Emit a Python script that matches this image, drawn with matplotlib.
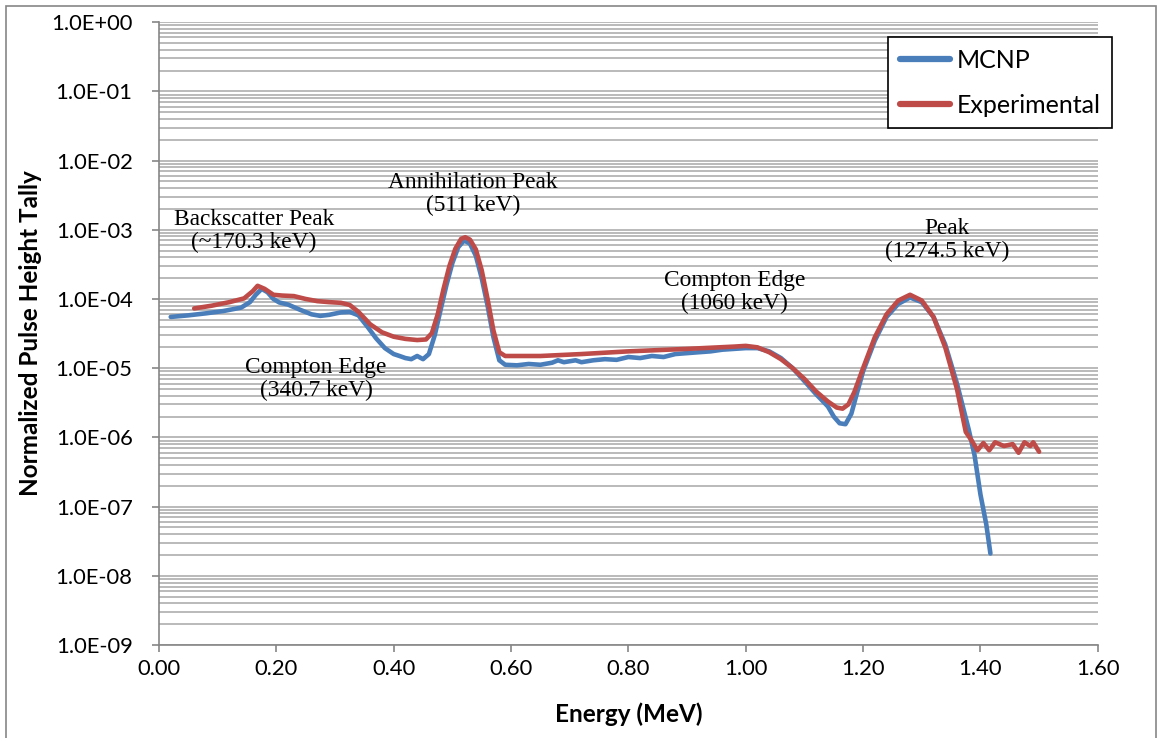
# Pulse height tally, MCNP x experimental
import matplotlib
matplotlib.use('Agg')
import matplotlib.pyplot as plt
import matplotlib.ticker as mticker
from matplotlib.patches import Rectangle

# dados
E_mcnp = [0.02, 0.05, 0.08, 0.11, 0.14, 0.155, 0.165, 0.175, 0.185, 0.195, 0.205, 0.22, 0.24, 0.26,
          0.275, 0.29, 0.31, 0.325, 0.34, 0.355, 0.37, 0.385, 0.40, 0.41, 0.42, 0.43, 0.44, 0.45,
          0.46, 0.47, 0.48, 0.49, 0.50, 0.51, 0.52, 0.53, 0.54, 0.55, 0.56, 0.57, 0.58, 0.59,
          0.61, 0.63, 0.65, 0.67, 0.68, 0.69, 0.71, 0.72, 0.74, 0.76, 0.78, 0.80, 0.82, 0.84,
          0.86, 0.88, 0.90, 0.92, 0.94, 0.96, 0.98, 1.00, 1.02, 1.04, 1.06, 1.08, 1.10, 1.12,
          1.14, 1.15, 1.16, 1.17, 1.18, 1.19, 1.20, 1.22, 1.24, 1.26, 1.28, 1.30, 1.32, 1.34,
          1.36, 1.38, 1.39, 1.40, 1.41, 1.417]
T_mcnp = [5.5e-5, 5.8e-5, 6.2e-5, 6.7e-5, 7.5e-5, 9.0e-5, 1.15e-4, 1.40e-4, 1.25e-4, 1.0e-4, 8.9e-5,
          8.3e-5, 7.0e-5, 6.0e-5, 5.7e-5, 5.9e-5, 6.4e-5, 6.5e-5, 5.8e-5, 4.0e-5, 2.7e-5, 1.95e-5,
          1.6e-5, 1.5e-5, 1.4e-5, 1.35e-5, 1.5e-5, 1.35e-5, 1.6e-5, 3.0e-5, 7.0e-5, 1.6e-4,
          3.3e-4, 5.6e-4, 7.0e-4, 6.3e-4, 4.2e-4, 2.0e-4, 8.0e-5, 2.8e-5, 1.3e-5, 1.12e-5,
          1.1e-5, 1.15e-5, 1.12e-5, 1.2e-5, 1.3e-5, 1.22e-5, 1.3e-5, 1.22e-5, 1.3e-5, 1.35e-5,
          1.32e-5, 1.45e-5, 1.4e-5, 1.5e-5, 1.45e-5, 1.6e-5, 1.65e-5, 1.7e-5, 1.75e-5, 1.85e-5,
          1.9e-5, 1.95e-5, 1.95e-5, 1.75e-5, 1.4e-5, 1.0e-5, 6.5e-6, 4.2e-6, 2.8e-6, 2.0e-6,
          1.6e-6, 1.55e-6, 2.2e-6, 4.5e-6, 9.0e-6, 2.5e-5, 5.5e-5, 8.5e-5, 1.05e-4, 9.0e-5,
          5.5e-5, 2.2e-5, 6.0e-6, 1.3e-6, 5.5e-7, 1.5e-7, 5.5e-8, 2.1e-8]

E_exp = [0.06, 0.09, 0.12, 0.145, 0.16, 0.168, 0.18, 0.195, 0.21, 0.23, 0.25, 0.27, 0.29, 0.31,
         0.325, 0.34, 0.36, 0.38, 0.40, 0.42, 0.44, 0.455, 0.465, 0.475, 0.485, 0.495, 0.505,
         0.515, 0.522, 0.53, 0.54, 0.55, 0.56, 0.57, 0.58, 0.59, 0.65, 0.72, 0.80, 0.90, 0.98,
         1.00, 1.02, 1.04, 1.06, 1.08, 1.10, 1.12, 1.14, 1.155, 1.165, 1.175, 1.185, 1.20,
         1.22, 1.24, 1.26, 1.28, 1.30, 1.32, 1.34, 1.36, 1.375, 1.385, 1.395, 1.405, 1.415,
         1.425, 1.44, 1.455, 1.465, 1.475, 1.485, 1.49, 1.50]
T_exp = [7.3e-5, 8.0e-5, 9.0e-5, 1.02e-4, 1.3e-4, 1.55e-4, 1.4e-4, 1.15e-4, 1.12e-4, 1.1e-4,
         1.0e-4, 9.3e-5, 9.0e-5, 8.8e-5, 8.2e-5, 6.5e-5, 4.3e-5, 3.3e-5, 2.85e-5, 2.65e-5,
         2.55e-5, 2.6e-5, 3.2e-5, 6.0e-5, 1.4e-4, 3.0e-4, 5.3e-4, 7.4e-4, 7.8e-4, 7.2e-4,
         5.2e-4, 2.6e-4, 1.0e-4, 3.5e-5, 1.7e-5, 1.5e-5, 1.5e-5, 1.6e-5, 1.75e-5, 1.9e-5,
         2.05e-5, 2.1e-5, 2.0e-5, 1.7e-5, 1.35e-5, 1.0e-5, 7.0e-6, 4.6e-6, 3.3e-6, 2.7e-6,
         2.6e-6, 3.0e-6, 4.5e-6, 1.0e-5, 2.8e-5, 6.0e-5, 9.5e-5, 1.15e-4, 9.5e-5, 5.5e-5,
         2.0e-5, 5.0e-6, 1.2e-6, 9.0e-7, 6.5e-7, 8.3e-7, 6.5e-7, 8.5e-7, 7.5e-7, 8.0e-7,
         6.0e-7, 8.5e-7, 7.5e-7, 8.5e-7, 6.2e-7]

cor_mcnp = '#4a7ebb'
cor_exp = '#be4b48'
cinza = '#868686'

fig = plt.figure(figsize=(11.58, 7.38), dpi=100)
fig.subplots_adjust(left=0.1373, right=0.948, top=0.970, bottom=0.126)
ax = fig.add_subplot(111)

# moldura externa
fig.patches.append(Rectangle((6/1158, -0.01), 1150/1158, 1 - 6/738 + 0.01, transform=fig.transFigure,
                             fill=False, edgecolor=cinza, linewidth=1.2))

ax.plot(E_mcnp, T_mcnp, color=cor_mcnp, lw=3.3, label='MCNP', solid_capstyle='round', zorder=3)
ax.plot(E_exp, T_exp, color=cor_exp, lw=3.3, label='Experimental', solid_capstyle='round', zorder=4)

ax.set_yscale('log')
ax.set_ylim(1e-9, 1e0)
ax.set_xlim(0, 1.6)
ax.set_xticks([0.0, 0.2, 0.4, 0.6, 0.8, 1.0, 1.2, 1.4, 1.6])
ax.xaxis.set_major_formatter(mticker.FormatStrFormatter('%.2f'))
ax.yaxis.set_major_locator(mticker.LogLocator(base=10, numticks=20))
ax.yaxis.set_minor_locator(mticker.LogLocator(base=10, subs=range(2, 10), numticks=20))
ax.yaxis.set_major_formatter(mticker.FuncFormatter(lambda v, p: '%.1E' % v))
ax.yaxis.set_minor_formatter(mticker.NullFormatter())

ax.grid(True, which='both', axis='y', color='#b4b4b4', linewidth=1.3)
ax.set_axisbelow(True)
for s in ['top', 'right']:
    ax.spines[s].set_visible(False)
for s in ['left', 'bottom']:
    ax.spines[s].set_color(cinza)
    ax.spines[s].set_linewidth(1.2)

fonte = 'Lato'
ax.tick_params(axis='both', which='major', direction='out', length=5, width=1.2, color=cinza,
               labelsize=15.8)
ax.tick_params(axis='y', which='major', pad=14)
ax.tick_params(axis='x', which='major', pad=5)
ax.tick_params(axis='y', which='minor', length=0)
for lab in ax.get_xticklabels() + ax.get_yticklabels():
    lab.set_fontfamily(fonte)

ax.set_xlabel('Energy (MeV)', fontsize=17.5, fontweight='bold', family=fonte, labelpad=17)
ax.set_ylabel('Normalized Pulse Height Tally', fontsize=17.5, fontweight='bold', family=fonte, labelpad=7)

# anotacoes
serif = 'Liberation Serif'
tam = 16.8
ax.text(0.162, 9.5e-4, 'Backscatter Peak\n(~170.3 keV)', ha='center', va='center', fontsize=tam,
        family=serif, linespacing=1.1)
ax.text(0.535, 3.27e-3, 'Annihilation Peak\n(511 keV)', ha='center', va='center', fontsize=tam,
        family=serif, linespacing=1.1)
ax.text(0.2675, 6.9e-6, 'Compton Edge\n(340.7 keV)', ha='center', va='center', fontsize=tam,
        family=serif, linespacing=1.1)
ax.text(0.981, 1.26e-4, 'Compton Edge\n(1060 keV)', ha='center', va='center', fontsize=tam,
        family=serif, linespacing=1.1)
ax.text(1.343, 7.1e-4, 'Peak\n(1274.5 keV)', ha='center', va='center', fontsize=tam,
        family=serif, linespacing=1.1)

leg = ax.legend(loc='upper right', bbox_to_anchor=(1.0155, 0.9755), frameon=True, fancybox=False,
                edgecolor='black', framealpha=1, prop={'family': fonte, 'size': 18},
                handlelength=2.0, handletextpad=0.3, labelspacing=0.9, borderpad=0.45,
                borderaxespad=0)
leg.get_frame().set_linewidth(1.2)
for h in leg.get_lines():
    h.set_linewidth(4.5)

plt.savefig('out.png', dpi=100)
